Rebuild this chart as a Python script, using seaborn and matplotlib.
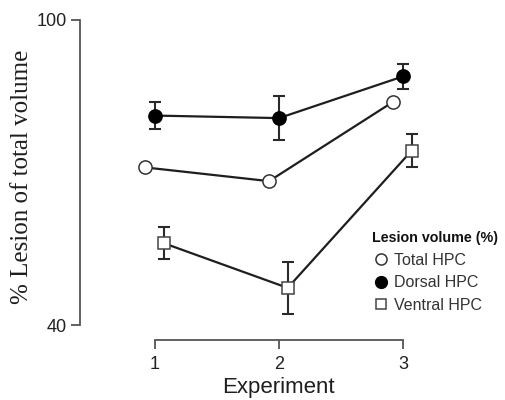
import numpy as np
import pandas as pd
import matplotlib
matplotlib.use("Agg")
import matplotlib.pyplot as plt
from matplotlib.lines import Line2D
import seaborn as sns

# ---- data ----
experiments = [1, 2, 3]
total_hpc = [71.0, 68.3, 83.9]
dorsal_hpc = [81.2, 80.7, 88.9]
dorsal_err = [2.6, 4.3, 2.5]
ventral_hpc = [56.1, 47.3, 74.3]
ventral_err = [3.1, 5.1, 3.2]
series_names = ["Total HPC", "Dorsal HPC", "Ventral HPC"]
y_ticks = [40, 100]
x_ticks = [1, 2, 3]

sns.set_theme(style="white")
plt.rcParams["font.family"] = ["Liberation Sans", "DejaVu Sans"]

W, H = 506, 400
fig = plt.figure(figsize=(W / 100, H / 100), dpi=100)
ax = fig.add_axes([80 / W, 75 / H, 385 / W, 305 / H])

ink = "#1e1e1e"
spine_col = "#555555"

df = pd.DataFrame({
    "Experiment": experiments * 3,
    "value": total_hpc + dorsal_hpc + ventral_hpc,
    "region": sum([[n] * 3 for n in series_names], []),
})
offsets = {"Total HPC": -0.08, "Dorsal HPC": 0.0, "Ventral HPC": 0.07}
df["xpos"] = df["Experiment"] + df["region"].map(offsets)

styles = {
    "Total HPC": dict(marker="o", mfc="white", mec="#333333", ms=9.5),
    "Dorsal HPC": dict(marker="o", mfc="black", mec="black", ms=9.5),
    "Ventral HPC": dict(marker="s", mfc="white", mec="#444444", ms=8.5),
}

errs = {"Dorsal HPC": dorsal_err, "Ventral HPC": ventral_err}
for name in series_names:
    sub = df[df["region"] == name]
    if name in errs:
        ax.errorbar(sub["xpos"], sub["value"], yerr=errs[name], fmt="none",
                    ecolor="#2a2a2a", elinewidth=1.5, capsize=4, capthick=1.5,
                    zorder=2)
    st = styles[name]
    sns.lineplot(data=sub, x="xpos", y="value", ax=ax, color=ink, lw=1.6,
                 marker=st["marker"], markersize=st["ms"],
                 markerfacecolor=st["mfc"], markeredgecolor=st["mec"],
                 markeredgewidth=1.1, zorder=3, legend=False)

ax.set_xlim(1 - 75 / 124, 3.5)
ax.set_ylim(40, 100)
ax.set_xticks(x_ticks)
ax.set_xticklabels([str(t) for t in x_ticks])
ax.set_yticks(y_ticks)
ax.set_yticklabels([str(t) for t in y_ticks])

for s in ["top", "right"]:
    ax.spines[s].set_visible(False)
ax.spines["left"].set_bounds(40, 100)
ax.spines["bottom"].set_bounds(1, 3)
ax.spines["bottom"].set_position(("outward", 10.8))
for s in ["left", "bottom"]:
    ax.spines[s].set_color(spine_col)
    ax.spines[s].set_linewidth(1.3)

ax.tick_params(axis="both", which="major", bottom=True, left=True,
               direction="out", length=6.5, width=1.3,
               color=spine_col, labelsize=13, labelcolor="#222222")
ax.tick_params(axis="y", pad=3)
ax.tick_params(axis="x", pad=5)

ax.set_xlabel("Experiment", fontsize=16, color=ink, va="center")
ax.xaxis.set_label_coords((278 - 80) / 385, (325 - 388) / 305)
ax.set_ylabel("% Lesion of total volume", fontsize=18, color=ink,
              family=["Liberation Serif", "DejaVu Serif"], va="center")
ax.yaxis.set_label_coords((22 - 80) / 385, (325 - 177) / 305)

handles = [
    Line2D([], [], ls="none", marker="o", mfc="white", mec="#333333", ms=8, mew=1.1),
    Line2D([], [], ls="none", marker="o", mfc="black", mec="black", ms=8.5),
    Line2D([], [], ls="none", marker="s", mfc="white", mec="#444444", ms=7.5, mew=1.1),
]
leg = fig.legend(handles, series_names, loc="upper left",
                 bbox_to_anchor=(372 / W, 1 - 231 / H), frameon=False,
                 title="Lesion volume (%)", fontsize=11.5,
                 title_fontproperties={"weight": "bold", "size": 10.3},
                 handlelength=1.1, handletextpad=0.3, labelspacing=0.48,
                 borderpad=0, borderaxespad=0, alignment="left")
for t in leg.get_texts():
    t.set_color("#333333")
leg.get_title().set_color("#111111")

fig.savefig("out.png", dpi=100)
